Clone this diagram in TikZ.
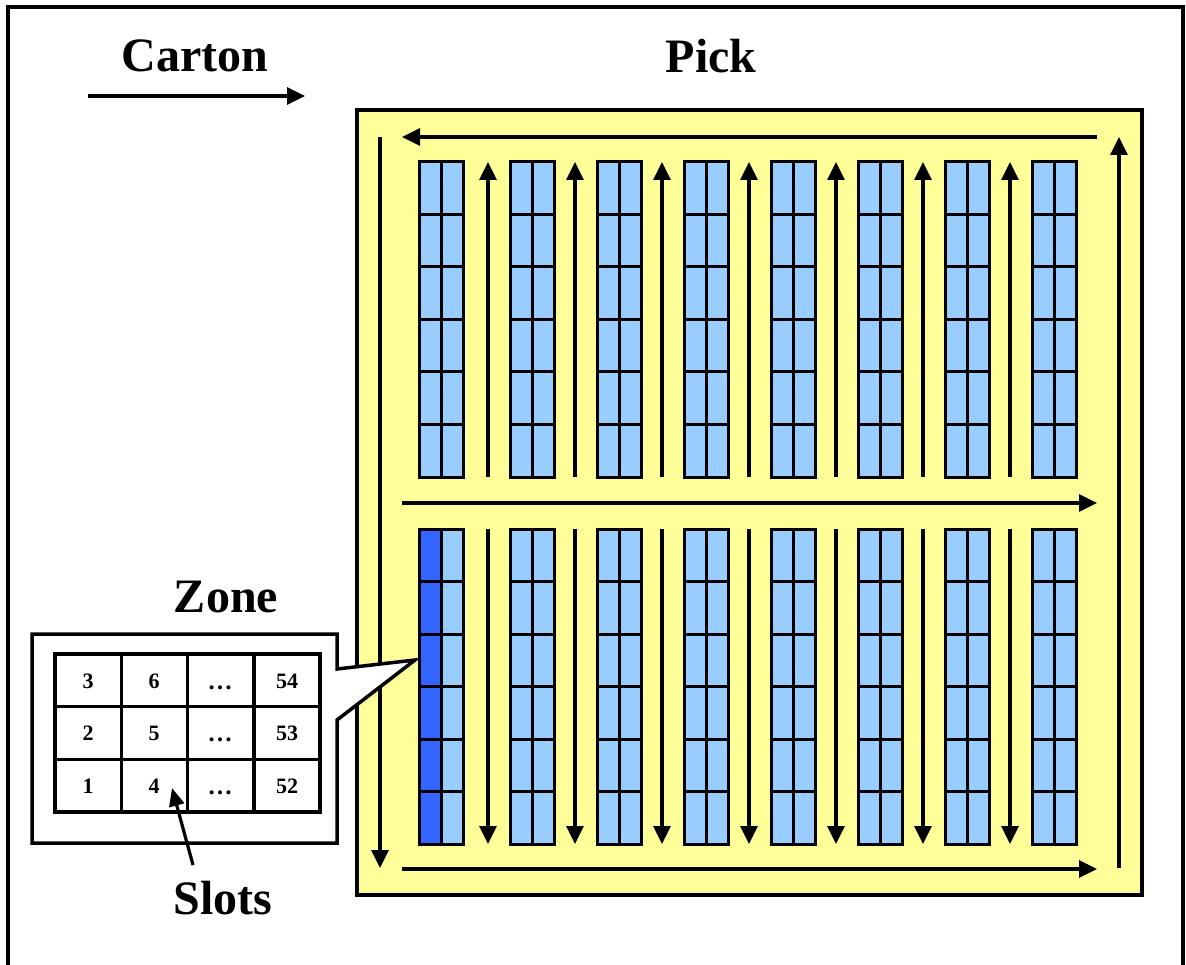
\documentclass[tikz,border=0pt]{standalone}
\usepackage{fontspec}
\setmainfont{Liberation Serif}
\usetikzlibrary{arrows.meta}
\definecolor{pickyellow}{HTML}{FFFF99}
\definecolor{slotblue}{HTML}{99CCFF}
\definecolor{darkslot}{HTML}{3366FF}
\tikzset{
  frameline/.style={line width=3.5pt, draw=black},
  flow/.style={line width=3.2pt, -{Triangle[length=18pt,width=17pt]}},
  gridline/.style={line width=3pt, draw=black},
  title/.style={font=\bfseries\fontsize{48}{52}\selectfont, inner sep=0pt},
  cell/.style={font=\bfseries\fontsize{22}{24}\selectfont, inner sep=0pt},
  dotcell/.style={font=\bfseries\fontsize{25}{27}\selectfont, inner sep=0pt, anchor=base},
}
\begin{document}
\begin{tikzpicture}[x=1pt,y=-1pt]
\useasboundingbox (0,0) rectangle (1186,965);
% outer frame (open at bottom)
\draw[frameline] (8,965) -- (8,7) -- (1183,7) -- (1183,965);
% titles
\node[title] (carton) at (195,56) {Carton};
\node[title] (pick) at (711,56) {Pick};
\coordinate (cs) at (88,96);
\coordinate (ce) at (305,96);
\draw[flow] (cs) -- (ce);
% pick area
\draw[frameline, fill=pickyellow] (357,110) rectangle (1142,895);
% shelves
\foreach \x in {419,510,597,684,771,858,945,1032} {
  \foreach \y in {162,529} {
    \fill[slotblue] (\x,\y) rectangle ++(44,315);
  }
}
\fill[darkslot] (419,529) rectangle (441,844);
\foreach \x in {419,510,597,684,771,858,945,1032} {
  \foreach \y in {162,529} {
    \draw[gridline] (\x,\y) rectangle ++(44,315);
    \draw[gridline] (\x+22,\y) -- ++(0,315);
    \foreach \k in {1,...,5} {
      \draw[gridline] (\x,\y+52.5*\k) -- ++(44,0);
    }
  }
}
% aisle arrows
\foreach \x in {488,575,662,749,836,923,1010} {
  \coordinate (ub\x) at (\x,477);
  \coordinate (ut\x) at (\x,162);
  \coordinate (db\x) at (\x,844);
  \coordinate (dt\x) at (\x,529);
  \draw[flow] (ub\x) -- (ut\x);
  \draw[flow] (dt\x) -- (db\x);
}
% loop arrows
\coordinate (tr) at (1097,137);
\coordinate (tl) at (402,137);
\coordinate (lt) at (380,137);
\coordinate (lb) at (380,868);
\coordinate (bl) at (402,869);
\coordinate (br) at (1097,869);
\coordinate (rb) at (1119,868);
\coordinate (rt) at (1119,137);
\coordinate (ml) at (402,503);
\coordinate (mr) at (1097,503);
\draw[flow] (tr) -- (tl);
\draw[flow] (lt) -- (lb);
\draw[flow] (bl) -- (br);
\draw[flow] (rb) -- (rt);
\draw[flow] (ml) -- (mr);
% zone callout
\node[title] (zone) at (226,597) {Zone};
\draw[frameline, fill=white, line join=miter]
  (32,634) -- (337,634) -- (337,669) -- (415,660) -- (337,720) -- (337,843) -- (32,843) -- cycle;
\draw[gridline, line width=3.5pt] (55,654) rectangle (320,812);
\foreach \x in {121.25,187.5,253.75} \draw[gridline, line width=3.5pt] (\x,654) -- (\x,812);
\foreach \y in {706.7,759.3} \draw[gridline, line width=3.5pt] (55,\y) -- (320,\y);
\node[cell] (c3) at (88,681) {3};
\node[cell] (c6) at (154,681) {6};
\node[dotcell] (cd1) at (220,689) {…};
\node[cell] (c54) at (287,681) {54};
\node[cell] (c2) at (88,733) {2};
\node[cell] (c5) at (154,733) {5};
\node[dotcell] (cd2) at (220,741) {…};
\node[cell] (c53) at (287,733) {53};
\node[cell] (c1) at (88,786) {1};
\node[cell] (c4) at (154,786) {4};
\node[dotcell] (cd3) at (220,794) {…};
\node[cell] (c52) at (287,786) {52};
% slots
\node[title] (slots) at (223,898) {Slots};
\coordinate (sa) at (193,865);
\coordinate (sb) at (172,788);
\draw[line width=3.2pt, -{Triangle[length=18pt,width=15pt]}] (sa) -- (sb);
\end{tikzpicture}
\end{document}
